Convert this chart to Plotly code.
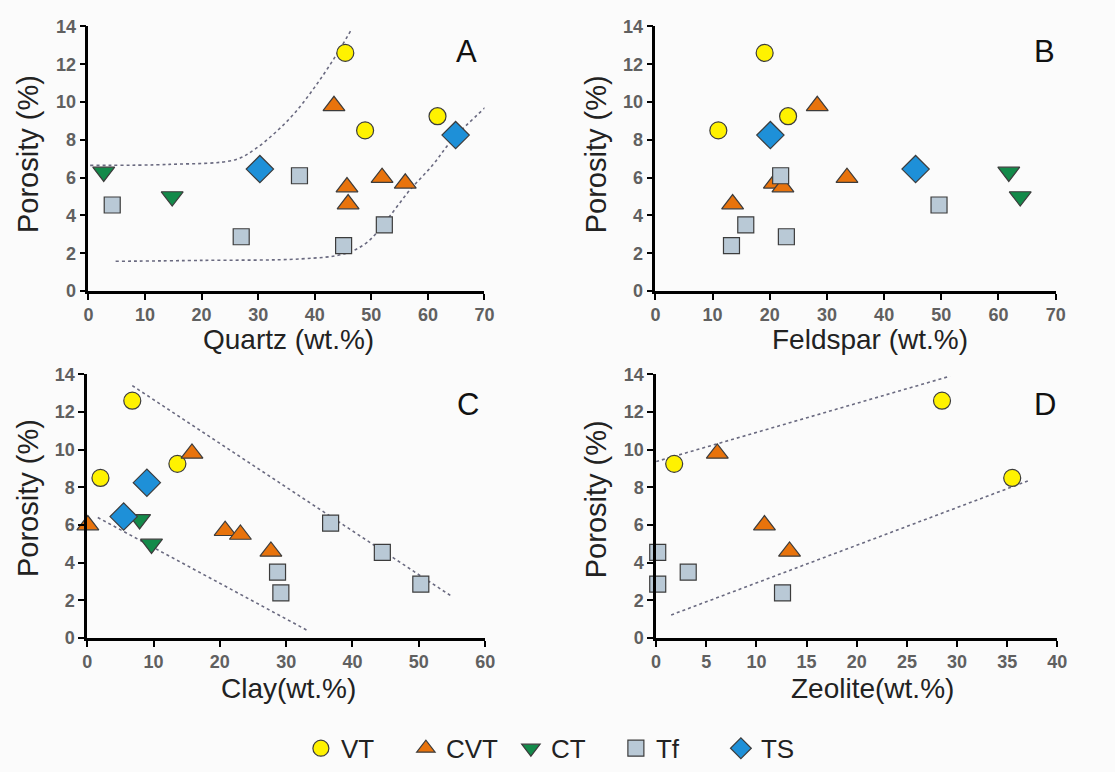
import plotly.graph_objects as go

W, H = 1115, 772

# ---------------- data ----------------
classes = ["VT", "CVT", "CT", "Tf", "TS"]

vt_porosity = [12.6, 8.5, 9.25]
vt_quartz = [45.4, 48.9, 61.7]
vt_feldspar = [19.1, 11.0, 23.2]
vt_clay = [6.8, 2.0, 13.6]
vt_zeolite = [28.5, 35.5, 1.8]

cvt_porosity = [9.8, 6.0, 4.6, 5.7, 5.5]
cvt_quartz = [43.4, 51.9, 45.9, 56.0, 45.7]
cvt_feldspar = [28.3, 33.5, 13.5, 20.8, 22.3]
cvt_clay = [15.8, 0.1, 27.7, 20.8, 23.1]
cvt_zeolite = [6.1, 10.8, 13.3, None, None]

ct_porosity = [6.3, 5.0]
ct_quartz = [2.7, 14.8]
ct_feldspar = [61.8, 63.8]
ct_clay = [7.9, 9.7]
ct_zeolite = [None, None]

tf_porosity = [6.1, 4.55, 2.87, 2.4, 3.5]
tf_quartz = [37.3, 4.2, 27.0, 45.1, 52.3]
tf_feldspar = [21.9, 49.6, 22.9, 13.3, 15.8]
tf_clay = [36.7, 44.5, 50.3, 29.2, 28.7]
tf_zeolite = [None, 0.16, 0.16, 12.6, 3.2]

ts_porosity = [6.45, 8.25]
ts_quartz = [30.3, 64.9]
ts_feldspar = [45.5, 20.1]
ts_clay = [5.5, 9.0]
ts_zeolite = [None, None]

# trend / envelope lines
a_upper_x = [0.3, 14.3, 26.0, 29.4, 32.9, 36.4, 39.9, 43.4, 46.6]
a_upper_y = [6.65, 6.7, 6.95, 7.5, 8.35, 9.4, 10.75, 12.3, 13.9]
a_lower_x = [4.8, 20.2, 37.6, 45.1, 49.2, 52.7, 56.7, 60.8, 64.3, 70.1]
a_lower_y = [1.57, 1.62, 1.7, 1.96, 2.56, 3.75, 5.3, 6.65, 8.0, 9.7]
c_upper_x = [6.8, 54.9]
c_upper_y = [13.4, 2.23]
c_lower_x = [1.6, 33.3]
c_lower_y = [6.4, 0.39]
d_upper_x = [0.0, 29.3]
d_upper_y = [9.37, 13.9]
d_lower_x = [1.5, 37.1]
d_lower_y = [1.23, 8.35]

panel_letters = ["A", "B", "C", "D"]
x_titles = ["Quartz (wt.%)", "Feldspar (wt.%)", "Clay(wt.%)", "Zeolite(wt.%)"]
y_title = "Porosity (%)"
x_ranges = [[0, 70], [0, 70], [0, 60], [0, 40]]
x_dticks = [10, 10, 10, 5]

# ---------------- styles ----------------
styles = {
    "VT": dict(symbol="circle", color="#FFF200", size=17),
    "CVT": dict(symbol="triangle-up", color="#E8730C", size=19),
    "CT": dict(symbol="triangle-down", color="#138a4a", size=19),
    "Tf": dict(symbol="square", color="#B9C9D6", size=16),
    "TS": dict(symbol="diamond", color="#1E90D8", size=21),
}

data = {
    "VT": (vt_porosity, [vt_quartz, vt_feldspar, vt_clay, vt_zeolite]),
    "CVT": (cvt_porosity, [cvt_quartz, cvt_feldspar, cvt_clay, cvt_zeolite]),
    "CT": (ct_porosity, [ct_quartz, ct_feldspar, ct_clay, ct_zeolite]),
    "Tf": (tf_porosity, [tf_quartz, tf_feldspar, tf_clay, tf_zeolite]),
    "TS": (ts_porosity, [ts_quartz, ts_feldspar, ts_clay, ts_zeolite]),
}

# panel geometry in pixels: (x0, x1, ytop, ybottom)
panels_px = [(84.6, 486.0, 17.0, 290.0),
             (659.3, 1065.0, 17.0, 290.0),
             (83.3, 486.7, 376.0, 648.3),
             (660.0, 1066.7, 376.0, 648.3)]

def px(x):
    return x / W

def py(y):
    return 1 - y / H

fig = go.Figure()
layout = {}
FONT = "Liberation Sans, Arial, sans-serif"
TICKFONT = dict(family=FONT, size=18, color="#606060", weight="bold")

for i in range(4):
    x0, x1, yt, yb = panels_px[i]
    ax = "" if i == 0 else str(i + 1)
    layout["xaxis" + ax] = dict(
        domain=[px(x0), px(x1)], range=x_ranges[i], dtick=x_dticks[i], tick0=0,
        anchor="y" + ax, showgrid=False, zeroline=False, showline=True,
        linecolor="black", linewidth=2.5, ticks="outside", ticklen=6,
        tickwidth=2, tickcolor="black", tickfont=TICKFONT,
    )
    layout["yaxis" + ax] = dict(
        domain=[py(yb), py(yt)], range=[0, 14], dtick=2, tick0=0,
        anchor="x" + ax, showgrid=False, zeroline=False, showline=True,
        linecolor="black", linewidth=2.5, ticks="outside", ticklen=6,
        tickwidth=2, tickcolor="black", tickfont=TICKFONT,
    )

lines = [
    [(a_upper_x, a_upper_y, "spline"), (a_lower_x, a_lower_y, "spline")],
    [],
    [(c_upper_x, c_upper_y, "linear"), (c_lower_x, c_lower_y, "linear")],
    [(d_upper_x, d_upper_y, "linear"), (d_lower_x, d_lower_y, "linear")],
]

for i in range(4):
    ax = "" if i == 0 else str(i + 1)
    for lx, ly, shp in lines[i]:
        fig.add_trace(go.Scatter(
            x=lx, y=ly, mode="lines", xaxis="x" + ax, yaxis="y" + ax,
            line=dict(color="#6a6a80", width=1.6, dash="dot", shape=shp, smoothing=1.0),
            showlegend=False, hoverinfo="skip", cliponaxis=False))

for i in range(4):
    ax = "" if i == 0 else str(i + 1)
    for c in classes:
        por, mins = data[c]
        xs = mins[i]
        st = styles[c]
        if i > 0 and all(v is None for v in xs):
            continue
        fig.add_trace(go.Scatter(
            x=xs, y=por, mode="markers", name=c, legendgroup=c,
            showlegend=(i == 0), xaxis="x" + ax, yaxis="y" + ax,
            cliponaxis=False,
            marker=dict(symbol=st["symbol"], color=st["color"], size=st["size"],
                        line=dict(color="#3c3c3c", width=1.2))))

annotations = []
letter_pos = [(468, 43), (1054, 43), (469, 407), (1054, 407)]
for (lx, ly), t in zip(letter_pos, panel_letters):
    annotations.append(dict(x=px(lx), y=py(ly), xref="paper", yref="paper",
                            text=t, showarrow=False, xanchor="center", yanchor="middle",
                            font=dict(family=FONT, size=31, color="#111")))
xt_pos = [(287, 340), (877, 340), (287, 700), (879, 700)]
for (tx, ty), t in zip(xt_pos, x_titles):
    annotations.append(dict(x=px(tx), y=py(ty), xref="paper", yref="paper",
                            text=t, showarrow=False, xanchor="center", yanchor="middle",
                            font=dict(family=FONT, size=28, color="#222")))
yt_pos = [(24, 149), (599, 149), (24, 504), (599, 505)]
for tx, ty in yt_pos:
    annotations.append(dict(x=px(tx), y=py(ty), xref="paper", yref="paper",
                            text=y_title, showarrow=False, xanchor="center", yanchor="middle",
                            textangle=-90,
                            font=dict(family=FONT, size=29, color="#222")))

fig.update_layout(
    **layout,
    width=W, height=H,
    margin=dict(l=0, r=0, t=0, b=0),
    paper_bgcolor="#fbfbfb", plot_bgcolor="#fbfbfb",
    annotations=annotations,
    showlegend=True,
    legend=dict(orientation="h", x=px(566), y=py(762), xanchor="center", yanchor="middle",
                font=dict(family=FONT, size=26, color="#222"),
                bgcolor="rgba(0,0,0,0)", traceorder="normal", entrywidth=60),
)

fig.write_html("out.html")
